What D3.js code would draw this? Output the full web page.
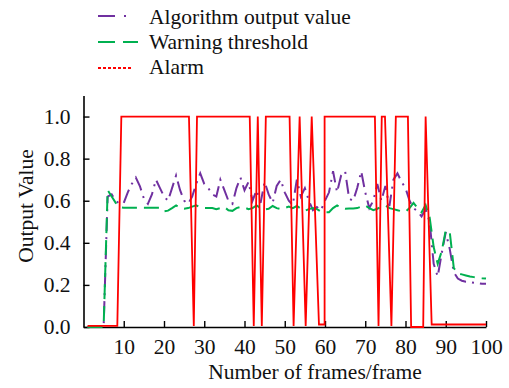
<!DOCTYPE html>
<html>
<head>
<meta charset="utf-8">
<script src="https://cdn.jsdelivr.net/npm/d3@7"></script>
<style>
  body { margin: 0; background: #fff; }
  text { font-family: "Liberation Serif", "Times New Roman", serif; }
</style>
</head>
<body>
<div id="area"></div>
<script>
// frames 1..100
var frames = d3.range(1, 101);

// algorithm output value (purple dash-dot)
var outputValues = [
  0, 0, 0, 0, 0, 0.62, 0.63, 0.60, 0.585, 0.59,
  0.64, 0.68, 0.71, 0.67, 0.61, 0.585, 0.63, 0.70, 0.66, 0.62,
  0.60, 0.66, 0.72, 0.65, 0.60, 0.585, 0.62, 0.68, 0.73, 0.68,
  0.66, 0.63, 0.62, 0.70, 0.65, 0.60, 0.585, 0.66, 0.71, 0.65,
  0.69, 0.60, 0.65, 0.59, 0.69, 0.63, 0.59, 0.67, 0.70, 0.64,
  0.60, 0.58, 0.70, 0.62, 0.66, 0.60, 0.555, 0.57, 0.555, 0.60,
  0.64, 0.74, 0.64, 0.72, 0.74, 0.61, 0.60, 0.66, 0.74, 0.64,
  0.565, 0.60, 0.68, 0.60, 0.67, 0.575, 0.70, 0.73, 0.69, 0.66,
  0.60, 0.565, 0.55, 0.525, 0.56, 0.50, 0.30, 0.24, 0.35, 0.45,
  0.37, 0.26, 0.23, 0.22, 0.215, 0.213, 0.21, 0.208, 0.205, 0.205
];

// warning threshold (green dashed)
var thresholdValues = [
  0, 0, 0, 0, 0, 0.65, 0.62, 0.59, 0.57, 0.567,
  0.567, 0.567, 0.567, 0.567, 0.567, 0.567, 0.567, 0.567, 0.567, 0.55,
  0.553, 0.565, 0.578, 0.565, 0.562, 0.565, 0.572, 0.578, 0.568, 0.565,
  0.565, 0.565, 0.56, 0.565, 0.57, 0.555, 0.552, 0.565, 0.57, 0.568,
  0.56, 0.565, 0.578, 0.565, 0.558, 0.562, 0.575, 0.565, 0.56, 0.565,
  0.572, 0.565, 0.575, 0.562, 0.552, 0.56, 0.565, 0.56, 0.548, 0.545,
  0.545, 0.565, 0.578, 0.565, 0.562, 0.563, 0.563, 0.565, 0.572, 0.578,
  0.565, 0.555, 0.562, 0.572, 0.578, 0.565, 0.56, 0.555, 0.55, 0.548,
  0.565, 0.59, 0.565, 0.545, 0.58, 0.52, 0.38, 0.30, 0.36, 0.46,
  0.45, 0.28, 0.255, 0.25, 0.245, 0.24, 0.237, 0.235, 0.232, 0.23
];

// alarm (red) - switch points
var alarmFrames = [1, 8.4, 9.4, 26.2, 27.4, 28.2, 41.3, 42.3, 43.3, 44.3, 45.3, 51.2, 52.2,
  53.7, 55.2, 56.7, 58.5, 59.9, 59.9, 72.4, 73.3, 74.1, 74.9, 76.5, 77.6, 80.6, 81.4,
  84.4, 85, 86.5, 100];
var alarmValues = [0.005, 0.005, 1, 1, 0.005, 1, 1, 0.005, 1, 0.005, 1, 1, 0.005,
  1, 0.005, 1, 0.012, 0.012, 1, 1, 0.005, 1, 1, 0.005, 1, 1, 0,
  0, 1, 0.012, 0.012];

var xTicks = [10, 20, 30, 40, 50, 60, 70, 80, 90, 100];
var yTicks = [0, 0.2, 0.4, 0.6, 0.8, 1.0];

var legendNames = ["Algorithm output value", "Warning threshold", "Alarm"];
var colors = ["#7030a0", "#00b050", "#ff0000"];

var width = 509, height = 388;

var svg = d3.select("#area").append("svg")
  .attr("width", width)
  .attr("height", height);

var x = d3.scaleLinear().domain([0, 100]).range([83.5, 486]);
var y = d3.scaleLinear().domain([0, 1.1]).range([327, 95.5]);

// axes, ticks pointing inward
var xAxis = svg.append("g")
  .attr("transform", "translate(0," + y(0) + ")")
  .call(d3.axisBottom(x).tickValues(xTicks).tickSizeInner(-6).tickSizeOuter(0).tickPadding(12));

var yAxis = svg.append("g")
  .attr("transform", "translate(" + x(0) + ",0)")
  .call(d3.axisLeft(y).tickValues(yTicks).tickSizeInner(-6).tickSizeOuter(0).tickPadding(13)
    .tickFormat(d3.format(".1f")));

[xAxis, yAxis].forEach(function(ax){
  ax.select(".domain").attr("stroke", "#000").attr("stroke-width", 1.6);
  ax.selectAll(".tick line").attr("stroke", "#000").attr("stroke-width", 1.4);
  ax.selectAll(".tick text")
    .attr("fill", "#111")
    .style("font-size", "21.5px")
    .style("font-family", '"Liberation Serif", "Times New Roman", serif');
});

// lines
var line = d3.line()
  .x(function(d){ return x(d[0]); })
  .y(function(d){ return y(d[1]); });

var series = [
  d3.zip(frames, outputValues),
  d3.zip(frames, thresholdValues),
  d3.zip(alarmFrames, alarmValues)
];
var seriesDash = ["14,6,2,6", "15,7", null];
var seriesWidth = [2, 2, 1.8];

series.forEach(function(s, i){
  svg.append("path")
    .datum(s)
    .attr("d", line)
    .attr("fill", "none")
    .attr("stroke", colors[i])
    .attr("stroke-width", seriesWidth[i])
    .attr("stroke-dasharray", seriesDash[i]);
});

// legend
var legend = svg.append("g");
var legendDash = ["17,9,2,9", "17,8", "3,2"];
var legendEnd = [128, 138, 133];
legendNames.forEach(function(name, i){
  var ly = 16 + i * 26;
  legend.append("line")
    .attr("x1", 98).attr("x2", legendEnd[i])
    .attr("y1", ly).attr("y2", ly)
    .attr("stroke", colors[i])
    .attr("stroke-width", 2)
    .attr("stroke-dasharray", legendDash[i]);
  legend.append("text")
    .attr("x", 149).attr("y", 24 + i * 25)
    .attr("fill", "#111")
    .style("font-size", "21.5px")
    .text(name);
});

// axis titles
svg.append("text")
  .attr("x", 315).attr("y", 379)
  .attr("text-anchor", "middle")
  .attr("fill", "#111")
  .style("font-size", "21.5px")
  .text("Number of frames/frame");

svg.append("text")
  .attr("transform", "translate(33,206) rotate(-90)")
  .attr("text-anchor", "middle")
  .attr("fill", "#111")
  .style("font-size", "21.5px")
  .text("Output Value");
</script>
</body>
</html>
